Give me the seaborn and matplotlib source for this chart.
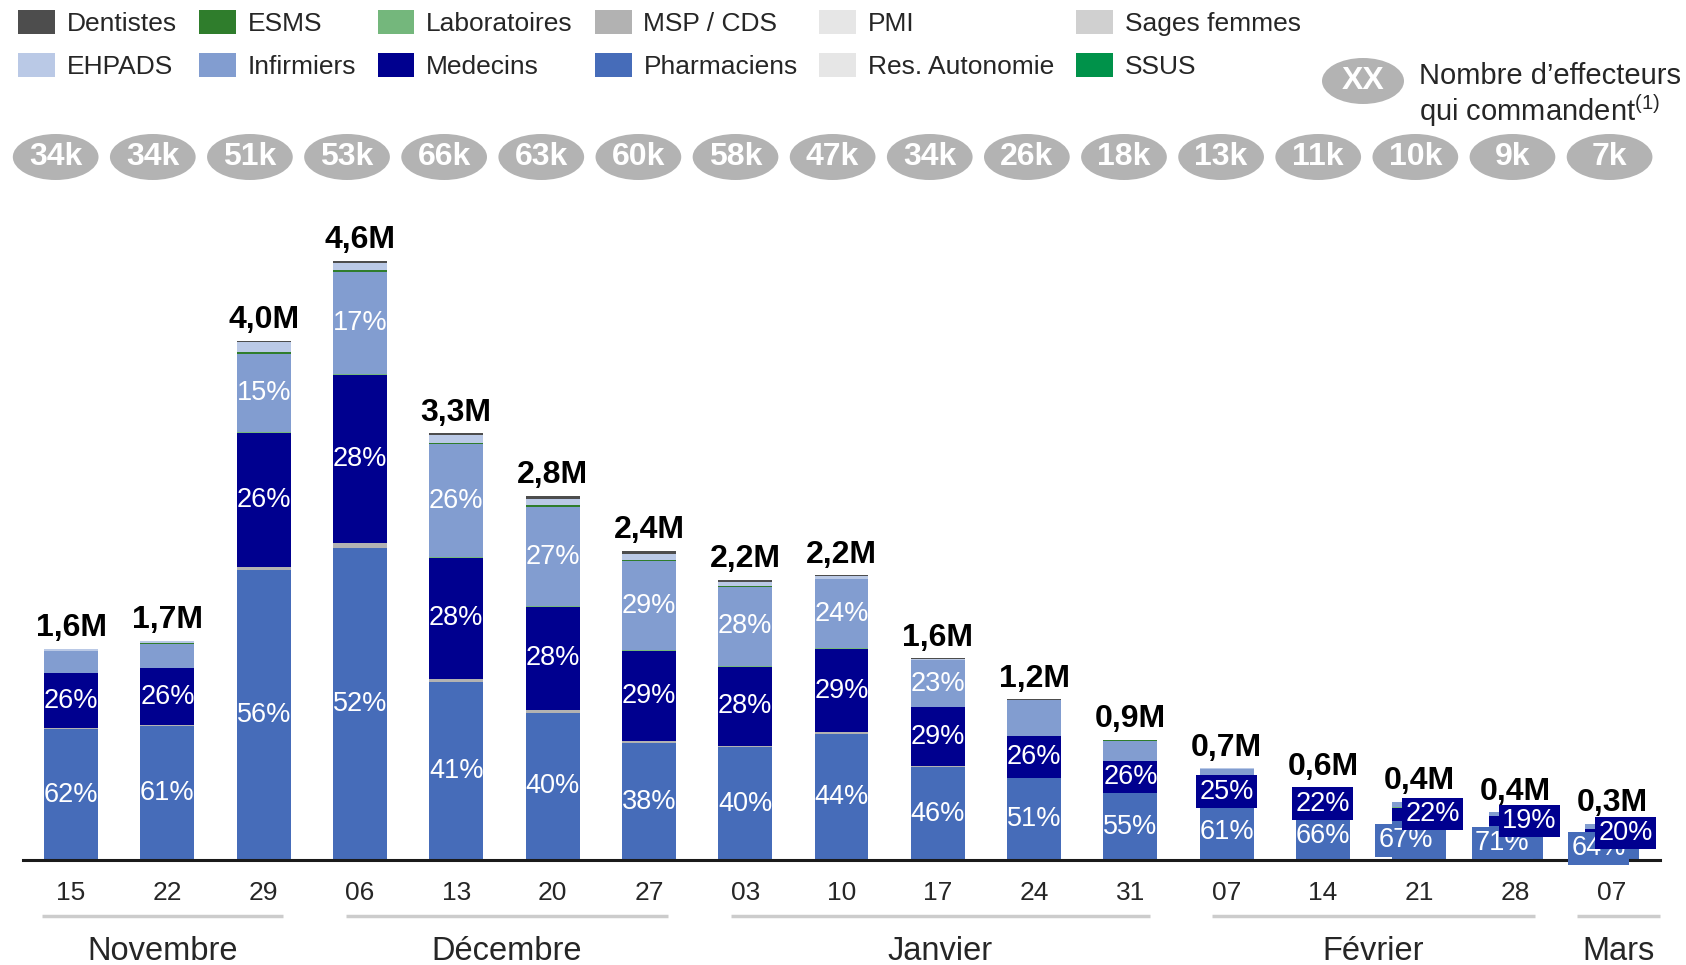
import numpy as np
import pandas as pd
import matplotlib
matplotlib.use("Agg")
import matplotlib.pyplot as plt
import matplotlib.transforms as mtransforms
from matplotlib.patches import Ellipse, Patch
import seaborn as sns

# --- data ---
weeks = ["15", "22", "29", "06", "13", "20", "27", "03", "10", "17",
         "24", "31", "07", "14", "21", "28", "07"]
totals = [1.62, 1.68, 3.97, 4.60, 3.32, 2.82, 2.36, 2.16, 2.20, 1.55,
          1.23, 0.93, 0.71, 0.56, 0.45, 0.37, 0.28]
total_labels = ["1,6M", "1,7M", "4,0M", "4,6M", "3,3M", "2,8M", "2,4M", "2,2M", "2,2M",
                "1,6M", "1,2M", "0,9M", "0,7M", "0,6M", "0,4M", "0,4M", "0,3M"]
effecteurs = ["34k", "34k", "51k", "53k", "66k", "63k", "60k", "58k", "47k", "34k",
              "26k", "18k", "13k", "11k", "10k", "9k", "7k"]

# share of each category in the weekly total (%)
pct_pharmaciens = [62, 61, 56, 52, 41, 40, 38, 40, 44, 46, 51, 55, 61, 66, 67, 71, 64]
pct_msp = [0.5, 0.5, 0.5, 0.8, 0.8, 0.8, 0.8, 0.5, 0.5, 0.5, 0.3, 0.3, 0.3, 0.3, 0.3, 0.3, 0.3]
pct_medecins = [26, 26, 26, 28, 28, 28, 29, 28, 29, 29, 26, 26, 25, 22, 22, 19, 20]
pct_laboratoires = [0.2, 0.2, 0.2, 0.2, 0.2, 0.2, 0.3, 0.4, 0.3, 0.3, 0.2, 0.2, 0.2, 0.2, 0.2, 0.2, 0.2]
pct_infirmiers = [10, 11, 15, 17, 26, 27, 29, 28, 24, 23, 22, 17, 12, 10, 9, 8, 14]
pct_esms = [0.3, 0.3, 0.4, 0.4, 0.4, 0.4, 0.4, 0.3, 0.3, 0.3, 0.2, 0.2, 0.2, 0.2, 0.2, 0.2, 0.2]
pct_ehpads = [0.8, 0.8, 2.0, 1.2, 1.7, 1.8, 2.0, 1.5, 0.8, 0.5, 0.3, 0.3, 0.3, 0.3, 0.3, 0.3, 0.3]
pct_dentistes = [0.3, 0.3, 0.2, 0.3, 0.5, 0.9, 0.9, 0.8, 0.4, 0.3, 0.2, 0.2, 0.2, 0.2, 0.2, 0.2, 0.2]

months = ["Novembre", "Décembre", "Janvier", "Février", "Mars"]
month_first = [0, 3, 7, 12, 16]
month_last = [2, 6, 11, 15, 16]

colors = {
    "Dentistes": "#4d4d4d", "ESMS": "#2f7d2c", "Laboratoires": "#74b77c",
    "MSP / CDS": "#b2b2b2", "PMI": "#e6e6e6", "Sages femmes": "#d0d0d0",
    "EHPADS": "#bac9e6", "Infirmiers": "#829dd0", "Medecins": "#00008f",
    "Pharmaciens": "#466cb9", "Res. Autonomie": "#e6e6e6", "SSUS": "#00924a",
}
legend_order = ["Dentistes", "EHPADS", "ESMS", "Infirmiers", "Laboratoires", "Medecins",
                "MSP / CDS", "Pharmaciens", "PMI", "Res. Autonomie", "Sages femmes", "SSUS"]

stack = [("Pharmaciens", pct_pharmaciens), ("MSP / CDS", pct_msp),
         ("Medecins", pct_medecins), ("Laboratoires", pct_laboratoires),
         ("Infirmiers", pct_infirmiers), ("ESMS", pct_esms),
         ("EHPADS", pct_ehpads), ("Dentistes", pct_dentistes)]

# --- figure ---
sns.set_style("white")
plt.rcParams["font.family"] = ["Liberation Sans", "DejaVu Sans"]
plt.rcParams["mathtext.fontset"] = "custom"
plt.rcParams["mathtext.rm"] = "Liberation Sans"

fig = plt.figure(figsize=(16.86, 9.65), dpi=100)
ax = fig.add_axes([0.0136, 0.1088, 0.971, 0.6757])

n = len(weeks)
idx = np.arange(n)
tot = np.array(totals)
bottom = np.zeros(n)
heights = {}
bottoms = {}
for name, pct in stack:
    h = tot * np.array(pct) / 100.0
    df = pd.DataFrame({"pos": idx, "val": h})
    sns.barplot(data=df, x="pos", y="val", bottom=bottom, color=colors[name],
                saturation=1, width=0.56, errorbar=None, linewidth=0, ax=ax)
    heights[name] = h
    bottoms[name] = bottom.copy()
    bottom = bottom + h

ax.set_xlim(-0.5, n - 0.5)
ax.set_ylim(0, 5)
ax.set_xlabel("")
ax.set_ylabel("")
ax.set_yticks([])
ax.set_xticks(idx)
ax.set_xticklabels(weeks, fontsize=19)
ax.tick_params(axis="x", length=0, pad=15)
for s in ["top", "right", "left"]:
    ax.spines[s].set_visible(False)
ax.spines["bottom"].set_color("#1a1a1a")
ax.spines["bottom"].set_linewidth(2.2)

# total labels
for i in range(n):
    ax.annotate(total_labels[i], (i, bottom[i]), xytext=(0, 4), textcoords="offset points",
                ha="center", va="bottom", fontsize=23, fontweight="bold", color="black")

# percentage labels
def seg_label(x, y, text, color, boxed):
    kw = {}
    if boxed:
        kw["bbox"] = dict(boxstyle="square,pad=0.12", fc=color, ec="none")
    ax.text(x, y, text, ha="center", va="center", color="white", fontsize=19.5, **kw)

for i in range(n):
    ph = heights["Pharmaciens"][i]
    md = heights["Medecins"][i]
    inf = heights["Infirmiers"][i]
    both_boxed = ph < 0.32
    dx = 0.14 if both_boxed else 0.0
    seg_label(i - dx, ph / 2, f"{pct_pharmaciens[i]}%", colors["Pharmaciens"], both_boxed)
    seg_label(i + dx, bottoms["Medecins"][i] + md / 2, f"{pct_medecins[i]}%",
              colors["Medecins"], md < 0.2)
    if inf >= 0.3:
        seg_label(i, bottoms["Infirmiers"][i] + inf / 2, f"{pct_infirmiers[i]}%",
                  colors["Infirmiers"], False)

# bubbles with number of ordering units (row is slightly shifted left of the bars)
blend = mtransforms.blended_transform_factory(ax.transData, fig.transFigure)
bub_y = 1 - 157 / 965
for i in range(n):
    bx = -0.16 + i * 1.0085
    e = Ellipse((bx, bub_y), width=0.89, height=46 / 965, transform=blend,
                fc="#b3b3b3", ec="none", clip_on=False)
    ax.add_patch(e)
    ax.text(bx, bub_y, effecteurs[i], transform=blend, ha="center", va="center",
            color="white", fontsize=23, fontweight="bold")

# month groups: grey line under the week labels, month name centred on it
for m, a, b in zip(months, month_first, month_last):
    x0 = a - 0.15
    x1 = min(b + 0.2, n - 0.5)
    if a == 0:
        x0 = a - 0.3
    if a == b:
        x0 = a - 0.36
        x1 = n - 0.5
    ax.plot([x0, x1], [1 - 916 / 965] * 2, transform=blend, color="#cccccc",
            lw=2.5, clip_on=False, solid_capstyle="butt")
    ax.text((x0 + x1) / 2, 1 - 951 / 965, m, transform=blend, ha="center",
            va="center", fontsize=23.5)

# legend
handles = [Patch(facecolor=colors[k], edgecolor="none", label=k) for k in legend_order]
fig.legend(handles=handles, loc="upper left", bbox_to_anchor=(18 / 1686, 1 - 10 / 965),
           ncol=6, frameon=False, fontsize=19, handlelength=1.4, handleheight=1.05,
           handletextpad=0.45, columnspacing=0.82, labelspacing=0.62, borderpad=0,
           borderaxespad=0)

# bubble legend
fig.patches.append(Ellipse((1363 / 1686, 1 - 81 / 965), width=82 / 1686, height=46 / 965,
                           transform=fig.transFigure, fc="#b3b3b3", ec="none"))
fig.text(1363 / 1686, 1 - 81 / 965, "XX", ha="center", va="center", color="white",
         fontsize=23, fontweight="bold")
fig.text(1419 / 1686, 1 - 76 / 965, "Nombre d\u2019effecteurs", ha="left", va="center",
         fontsize=21)
fig.text(1419 / 1686, 1 - 111 / 965, r"qui commandent$^{\mathregular{(1)}}$", ha="left",
         va="center", fontsize=21)

fig.savefig("out.png", dpi=100)
